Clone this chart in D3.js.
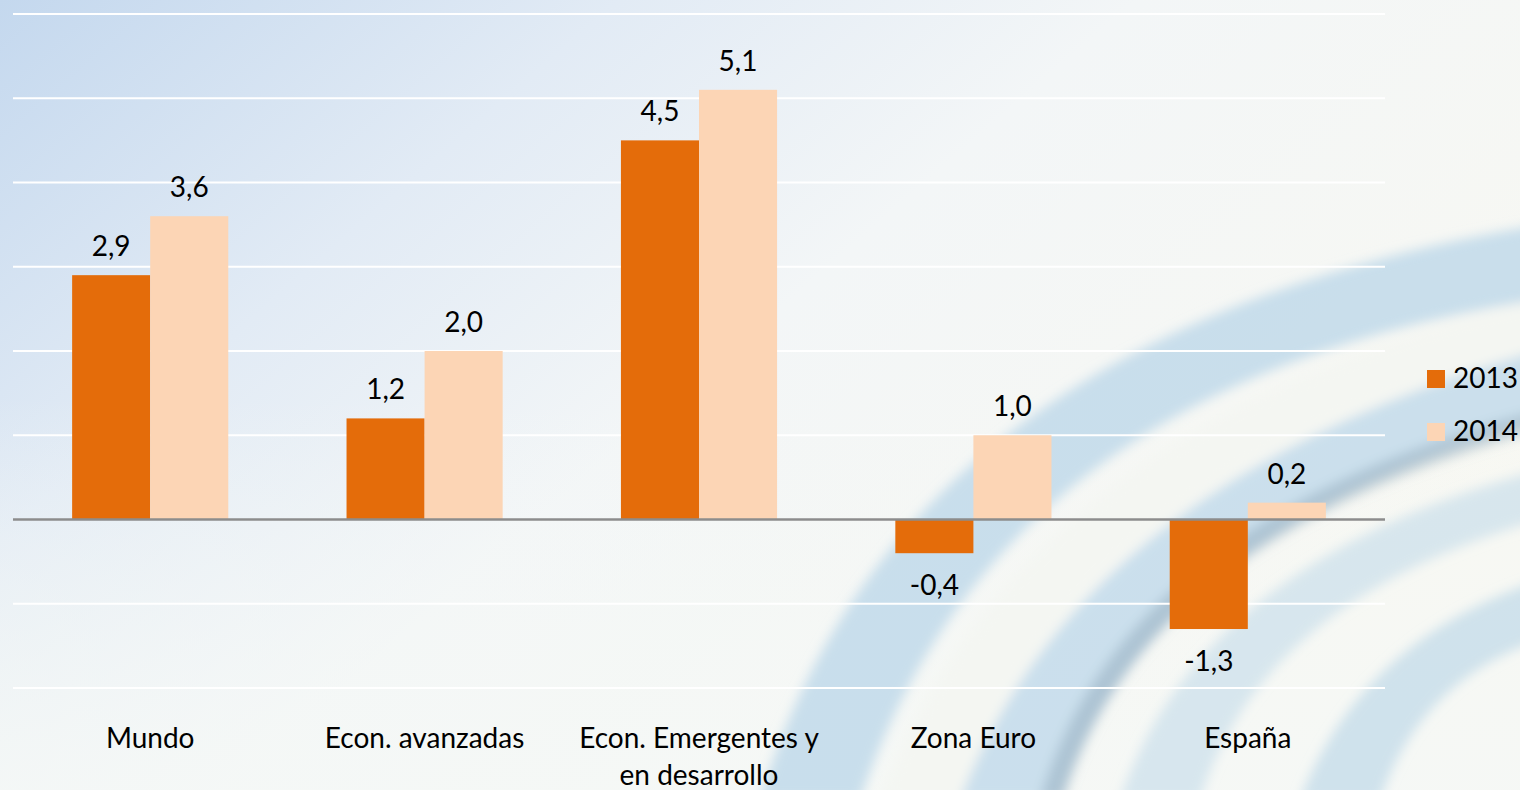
<!DOCTYPE html>
<html><head><meta charset="utf-8">
<script src="https://cdn.jsdelivr.net/npm/d3@7"></script>
<style>html,body{margin:0;padding:0;overflow:hidden;background:#f6f8f6}svg{display:block}</style>
</head><body>
<svg id="c" width="1520" height="790"></svg>
<script>
const categories = ["Mundo", "Econ. avanzadas", "Econ. Emergentes y|en desarrollo", "Zona Euro", "España"];
const seriesNames = ["2013", "2014"];
const values2013 = [2.9, 1.2, 4.5, -0.4, -1.3];
const values2014 = [3.6, 2.0, 5.1, 1.0, 0.2];
const yTicks = [-2, -1, 0, 1, 2, 3, 4, 5, 6];
const colors = ["#E46C0A", "#FCD5B5"];

const svg = d3.select("#c");
const W = 1520, H = 790;
const defs = svg.append("defs");

// background
const bg = defs.append("linearGradient").attr("id","bg").attr("x1","0").attr("y1","0").attr("x2","1").attr("y2","0.6");
bg.append("stop").attr("offset","0").attr("stop-color","#c4d8ee");
bg.append("stop").attr("offset","0.3").attr("stop-color","#e2ebf5");
bg.append("stop").attr("offset","0.55").attr("stop-color","#f3f6f7");
bg.append("stop").attr("offset","1").attr("stop-color","#f8f8f2");
svg.append("rect").attr("width",W).attr("height",H).attr("fill","url(#bg)");
const bg2 = defs.append("linearGradient").attr("id","bg2").attr("x1","0").attr("y1","1").attr("x2","0").attr("y2","0");
bg2.append("stop").attr("offset","0").attr("stop-color","#f5f8f6").attr("stop-opacity",0.85);
bg2.append("stop").attr("offset","0.5").attr("stop-color","#f5f8f6").attr("stop-opacity",0);
svg.append("rect").attr("width",W).attr("height",H).attr("fill","url(#bg2)");

const blur = defs.append("filter").attr("id","bl").attr("x","-0.2").attr("y","-0.2").attr("width","1.4").attr("height","1.4");
blur.append("feGaussianBlur").attr("stdDeviation",6);
const deco = svg.append("g").attr("filter","url(#bl)");
const swoosh = [
  {d:"M760,800 Q900,330 1540,225 L1540,300 Q1000,380 860,800 Z", c:"#b9d5e8", o:0.75},
  {d:"M880,800 Q1020,420 1540,300 L1540,350 Q1080,470 960,800 Z", c:"#f4f6f2", o:0.9},
  {d:"M960,800 Q1080,480 1540,350 L1540,420 Q1150,530 1060,800 Z", c:"#bcd7e9", o:0.75},
  {d:"M1120,800 Q1200,560 1540,470 L1540,520 Q1260,600 1200,800 Z", c:"#c3dbea", o:0.6},
  {d:"M1300,800 Q1360,640 1540,580 L1540,640 Q1420,680 1380,800 Z", c:"#b6d3e6", o:0.6},
  {d:"M1040,800 Q1120,520 1540,410 L1540,430 Q1140,540 1064,800 Z", c:"#8aa3b6", o:0.45}
];
deco.selectAll("path").data(swoosh).join("path").attr("d",d=>d.d).attr("fill",d=>d.c).attr("opacity",d=>d.o);

const left = 13, right = 1385;
const y = d3.scaleLinear().domain([-2, 6]).range([688, 14]);
const x0 = d3.scaleBand().domain(categories).range([left, right]).paddingInner(0.431).paddingOuter(0.2155);
const x1 = d3.scaleBand().domain(seriesNames).range([0, x0.bandwidth()]).padding(0);

// gridlines
svg.append("g").selectAll("line").data(yTicks.filter(t=>t!==0)).join("line")
  .attr("x1",left).attr("x2",right).attr("y1",d=>y(d)).attr("y2",d=>y(d))
  .attr("stroke","#ffffff").attr("stroke-width",2);

const font = "Lato, 'Open Sans', sans-serif";
const data = categories.map((c,i)=>({cat:c, vals:[values2013[i], values2014[i]]}));

const g = svg.append("g").selectAll("g").data(data).join("g")
  .attr("transform",d=>`translate(${x0(d.cat)},0)`);
g.selectAll("rect").data(d=>d.vals.map((v,j)=>({v, s:seriesNames[j], j}))).join("rect")
  .attr("x",d=>x1(d.s)).attr("width",x1.bandwidth())
  .attr("y",d=>y(Math.max(0,d.v))).attr("height",d=>Math.abs(y(d.v)-y(0)))
  .attr("fill",d=>colors[d.j]);
g.selectAll("text").data(d=>d.vals.map((v,j)=>({v, s:seriesNames[j], j}))).join("text")
  .attr("x",d=>x1(d.s)+x1.bandwidth()/2)
  .attr("y",d=>d.v>=0 ? y(d.v)-19 : y(d.v)+42)
  .attr("text-anchor","middle").attr("font-family",font).attr("font-size",28).attr("fill","#000")
  .text(d=>d3.format(".1f")(d.v).replace(".",",").replace("−","-"));

// zero line
svg.append("line").attr("x1",left).attr("x2",right).attr("y1",y(0)).attr("y2",y(0))
  .attr("stroke","#8c8c8c").attr("stroke-width",2.5);

// category labels
const xa = svg.append("g").selectAll("text").data(categories).join("text")
  .attr("x",d=>x0(d)+x0.bandwidth()/2).attr("y",748)
  .attr("text-anchor","middle").attr("font-family",font).attr("font-size",28).attr("fill","#000");
xa.each(function(d){
  const parts = d.split("|");
  parts.forEach((p,i)=>d3.select(this).append("tspan").attr("x",x0(d)+x0.bandwidth()/2).attr("dy",i===0?0:37).text(p));
});

// legend
const lg = svg.append("g").selectAll("g").data(seriesNames).join("g")
  .attr("transform",(d,i)=>`translate(1427,${370+i*53})`);
lg.append("rect").attr("width",18).attr("height",18).attr("fill",(d,i)=>colors[i]);
lg.append("text").attr("x",26).attr("y",18).attr("font-family",font).attr("font-size",28).attr("fill","#000").text(d=>d);
</script>
</body></html>
